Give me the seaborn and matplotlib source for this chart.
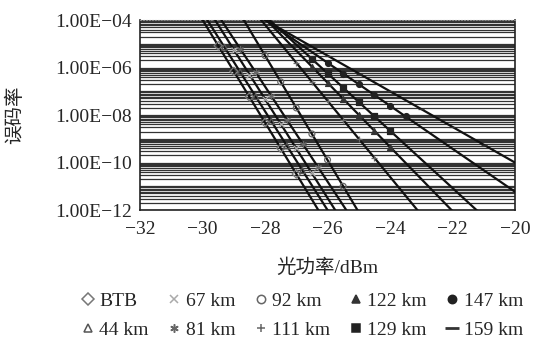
import numpy as np
import pandas as pd
import matplotlib
matplotlib.use('Agg')
import matplotlib.pyplot as plt
import seaborn as sns
from matplotlib.lines import Line2D
from matplotlib.ticker import FuncFormatter, LogLocator, NullFormatter

# 测量数据: 光功率(dBm) 与 误码率
labels = ['BTB', '44 km', '67 km', '81 km', '92 km',
          '111 km', '122 km', '129 km', '147 km', '159 km']

p_btb = [-29.5, -29.0, -28.5, -28.0, -27.5, -27.0]
ber_btb = [8.3e-6, 6.9e-7, 5.8e-8, 4.8e-9, 4.0e-10, 3.3e-11]
p_44 = [-29.3, -28.8, -28.3, -27.8, -27.3, -26.8]
ber_44 = [7.2e-6, 6.6e-7, 6.0e-8, 5.5e-9, 5.0e-10, 4.6e-11]
p_67 = [-29.0, -28.5, -28.0, -27.5, -27.0, -26.5]
ber_67 = [5.6e-6, 5.1e-7, 4.7e-8, 4.3e-9, 3.9e-10, 3.5e-11]
p_81 = [-28.8, -28.3, -27.8, -27.3, -26.8, -26.3]
ber_81 = [6.3e-6, 6.3e-7, 6.3e-8, 6.3e-9, 6.3e-10, 6.3e-11]
p_92 = [-28.0, -27.5, -27.0, -26.5, -26.0, -25.5]
ber_92 = [3.2e-6, 2.5e-7, 2.0e-8, 1.6e-9, 1.3e-10, 1.0e-11]
p_111 = [-27.0, -26.5, -26.0, -25.5, -25.0, -24.5]
ber_111 = [1.6e-6, 2.5e-7, 4.0e-8, 6.3e-9, 1.0e-9, 1.6e-10]
p_122 = [-26.5, -26.0, -25.5, -25.0, -24.5, -24.0]
ber_122 = [1.1e-6, 2.3e-7, 4.9e-8, 1.0e-8, 2.2e-9, 4.6e-10]
p_129 = [-26.5, -26.0, -25.5, -25.0, -24.5, -24.0]
ber_129 = [2.3e-6, 5.8e-7, 1.4e-7, 3.6e-8, 8.9e-9, 2.2e-9]
p_147 = [-26.0, -25.5, -25.0, -24.5, -24.0, -23.5]
ber_147 = [1.6e-6, 5.6e-7, 2.0e-7, 6.9e-8, 2.5e-8, 8.7e-9]
p_159 = [-26.0, -25.0, -24.0, -23.0, -22.0, -21.0]
ber_159 = [3.2e-6, 5.6e-7, 1.0e-7, 1.8e-8, 3.2e-9, 5.6e-10]

powers = [p_btb, p_44, p_67, p_81, p_92, p_111, p_122, p_129, p_147, p_159]
bers = [ber_btb, ber_44, ber_67, ber_81, ber_92, ber_111, ber_122, ber_129, ber_147, ber_159]

markers = ['D', '^', 'x', (6, 2, 0), 'o', '+', '^', 's', 'o', '_']
filled = [False, False, True, True, False, True, True, True, True, True]
mcolors = ['#777777', '#555555', '#aaaaaa', '#666666', '#666666',
           '#666666', '#333333', '#222222', '#222222', '#333333']

sns.set_style('white')
plt.rcParams['font.family'] = ['Liberation Serif', 'Noto Sans CJK SC']
plt.rcParams['axes.unicode_minus'] = True

fig = plt.figure(figsize=(5.33, 3.46), dpi=100)
ax = fig.add_axes([0.263, 0.393, 0.703, 0.549])

# 趋势线 (对数线性拟合)
x_fit = np.array([-33.0, -19.0])
for p, b in zip(powers, bers):
    coef = np.polyfit(p, np.log10(b), 1)
    sns.lineplot(x=x_fit, y=10 ** np.polyval(coef, x_fit), color='#111111',
                 linewidth=1.6, ax=ax, zorder=3)

for p, b, m, f, c in zip(powers, bers, markers, filled, mcolors):
    ax.scatter(p, b, marker=m, s=18, zorder=4,
               facecolors=c if f else 'none', edgecolors=c,
               linewidths=0.9)

ax.set_yscale('log')
ax.set_xlim(-32, -20)
ax.set_ylim(1e-12, 1e-4)
ax.set_xticks([-32, -30, -28, -26, -24, -22, -20])
ax.set_yticks([1e-12, 1e-10, 1e-8, 1e-6, 1e-4])
ax.yaxis.set_minor_locator(LogLocator(base=10, subs=np.arange(1, 10), numticks=20))
ax.yaxis.set_minor_formatter(NullFormatter())


def sci_fmt(v, pos):
    e = int(round(np.log10(v)))
    return '1.00E\u2212%02d' % abs(e)


ax.yaxis.set_major_formatter(FuncFormatter(sci_fmt))
ax.set_xticklabels(['\u221232', '\u221230', '\u221228', '\u221226', '\u221224', '\u221222', '\u221220'])

ax.grid(True, which='both', axis='y', color='#333333', linewidth=0.9)
ax.grid(False, axis='x')
ax.tick_params(axis='x', direction='in', length=4, width=1, labelsize=14, pad=8, top=False)
ax.tick_params(axis='y', which='both', length=0, labelsize=14, pad=6)

for s in ['left', 'bottom', 'right']:
    ax.spines[s].set_color('#222222')
    ax.spines[s].set_linewidth(1.2)
ax.spines['top'].set_color('#888888')
ax.spines['top'].set_linestyle(':')

ax.set_xlabel('光功率/dBm', fontsize=14, labelpad=15)
ax.set_ylabel('误码率', fontsize=14, labelpad=22)

handles = []
for m, f, c in zip(markers, filled, mcolors):
    handles.append(Line2D([], [], linestyle='none', marker=m, markersize=6 if m != '_' else 10,
                          markerfacecolor=c if f else 'none', markeredgecolor=c,
                          markeredgewidth=1.1 if m != '_' else 2))
fig.legend(handles, labels, loc='lower center', bbox_to_anchor=(0.565, -0.03), ncol=5,
           frameon=False, fontsize=14, handletextpad=0.15, columnspacing=0.85,
           labelspacing=0.6, handlelength=0.9)

fig.savefig('out.png', dpi=100)
